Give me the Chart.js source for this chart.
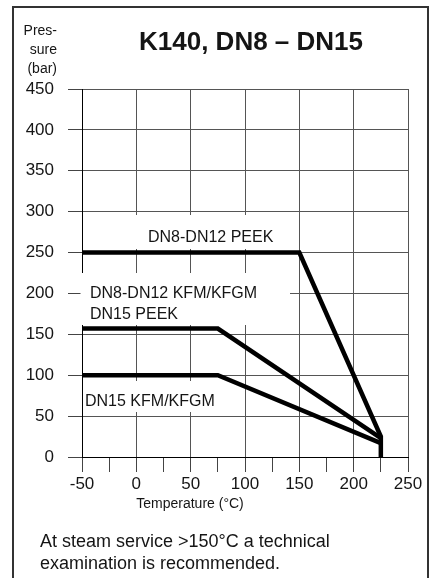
<!DOCTYPE html>
<html lang="en">
<head>
<meta charset="utf-8">
<script src="https://cdn.jsdelivr.net/npm/chart.js"></script>
<style>
  body { margin: 0; background: #fff; }
  #wrap { width: 435px; height: 578px; }
</style>
</head>
<body>
<div id="wrap"><canvas id="pressChart" width="435" height="578"></canvas></div>

<script>
  // curves: temperature (°C) -> pressure (bar)
  const peekTemp = [-50, 150, 225, 225];
  const peekPress = [250, 250, 25, 0];
  const kfmTemp = [-50, 75, 225];
  const kfmPress = [157, 157, 23];
  const dn15Temp = [-50, 75, 225];
  const dn15Press = [100, 100, 17];

  const xTicks = [-50, 0, 50, 100, 150, 200, 250];
  const yTicks = [0, 50, 100, 150, 200, 250, 300, 350, 400, 450];

  const title = 'K140, DN8 – DN15';
  const yTitle = ['Pres-', 'sure', '(bar)'];
  const xTitle = 'Temperature (°C)';
  const note = ['At steam service >150°C a technical', 'examination is recommended.'];

  const FONT = "'Liberation Sans', Arial, Helvetica, sans-serif";
  const INK = '#151515';

  function pts(xs, ys) {
    return xs.map((x, i) => ({ x: x, y: ys[i] }));
  }

  // in-plot labels with a white box behind them
  const curveLabels = [
    { lines: ['DN8-DN12 PEEK'], x: 148, y: 242, box: [128, 215, 296, 249] },
    { lines: ['DN8-DN12 KFM/KFGM', 'DN15 PEEK'], x: 90, y: 298, box: [80.5, 273, 290, 325] },
    { lines: ['DN15 KFM/KFGM'], x: 85, y: 406, box: [84, 381, 236, 412] }
  ];

  const decor = {
    id: 'decor',
    beforeDatasetsDraw(chart) {
      const c = chart.ctx;
      c.save();
      curveLabels.forEach(l => {
        c.fillStyle = '#fff';
        c.fillRect(l.box[0], l.box[1], l.box[2] - l.box[0], l.box[3] - l.box[1]);
        c.fillStyle = INK;
        c.font = '16px ' + FONT;
        c.textAlign = 'left';
        c.textBaseline = 'alphabetic';
        l.lines.forEach((t, i) => c.fillText(t, l.x, l.y + i * 21));
      });
      c.restore();
    },
    afterDraw(chart) {
      const c = chart.ctx;
      c.save();
      // frame
      c.strokeStyle = '#333';
      c.lineWidth = 2;
      c.beginPath();
      c.moveTo(13, 600);
      c.lineTo(13, 7);
      c.lineTo(428, 7);
      c.lineTo(428, 600);
      c.stroke();

      c.fillStyle = INK;
      c.textBaseline = 'alphabetic';
      c.textAlign = 'center';
      c.font = 'bold 26px ' + FONT;
      c.fillText(title, 251, 50);

      c.textAlign = 'right';
      c.font = '14px ' + FONT;
      yTitle.forEach((t, i) => c.fillText(t, 57, 35 + i * 19));

      c.textAlign = 'center';
      c.font = '14px ' + FONT;
      c.fillText(xTitle, 190, 508);

      c.textAlign = 'left';
      c.font = '18px ' + FONT;
      note.forEach((t, i) => c.fillText(t, 40, 547 + i * 22));
      c.restore();
    }
  };

  const lineStyle = {
    showLine: true,
    pointRadius: 0,
    borderColor: '#000',
    borderWidth: 4.5,
    borderJoinStyle: 'miter',
    fill: false
  };

  new Chart(document.getElementById('pressChart'), {
    type: 'scatter',
    data: {
      datasets: [
        Object.assign({ label: 'DN8-DN12 PEEK', data: pts(peekTemp, peekPress) }, lineStyle),
        Object.assign({ label: 'DN8-DN12 KFM/KFGM, DN15 PEEK', data: pts(kfmTemp, kfmPress) }, lineStyle),
        Object.assign({ label: 'DN15 KFM/KFGM', data: pts(dn15Temp, dn15Press) }, lineStyle)
      ]
    },
    options: {
      responsive: false,
      animation: false,
      layout: { padding: { top: 89, right: 27, left: 0, bottom: 0 } },
      plugins: {
        legend: { display: false },
        tooltip: { enabled: false }
      },
      scales: {
        x: {
          type: 'linear',
          min: -50,
          max: 250,
          afterFit: s => { s.height = 121; },
          afterBuildTicks: s => {
            const t = [];
            for (let v = xTicks[0]; v <= xTicks[xTicks.length - 1]; v += 25) t.push({ value: v });
            s.ticks = t;
          },
          ticks: {
            autoSkip: false,
            maxRotation: 0,
            padding: 2,
            color: INK,
            font: { family: FONT, size: 17 },
            callback: v => xTicks.includes(v) ? String(v) : ''
          },
          grid: {
            color: ctx => (ctx.tick && xTicks.includes(ctx.tick.value)) ? '#555' : 'rgba(0,0,0,0)',
            tickColor: '#444',
            tickLength: 15,
            lineWidth: 1
          },
          border: { color: '#000', width: 1 }
        },
        y: {
          min: 0,
          max: 450,
          afterFit: s => { s.width = 82; },
          afterBuildTicks: s => { s.ticks = yTicks.map(v => ({ value: v })); },
          ticks: {
            padding: 14,
            color: INK,
            font: { family: FONT, size: 17 }
          },
          grid: {
            color: '#555',
            tickColor: '#444',
            tickLength: 14,
            lineWidth: 1
          },
          border: { color: '#000', width: 1 }
        }
      }
    },
    plugins: [decor]
  });
</script>
</body>
</html>
